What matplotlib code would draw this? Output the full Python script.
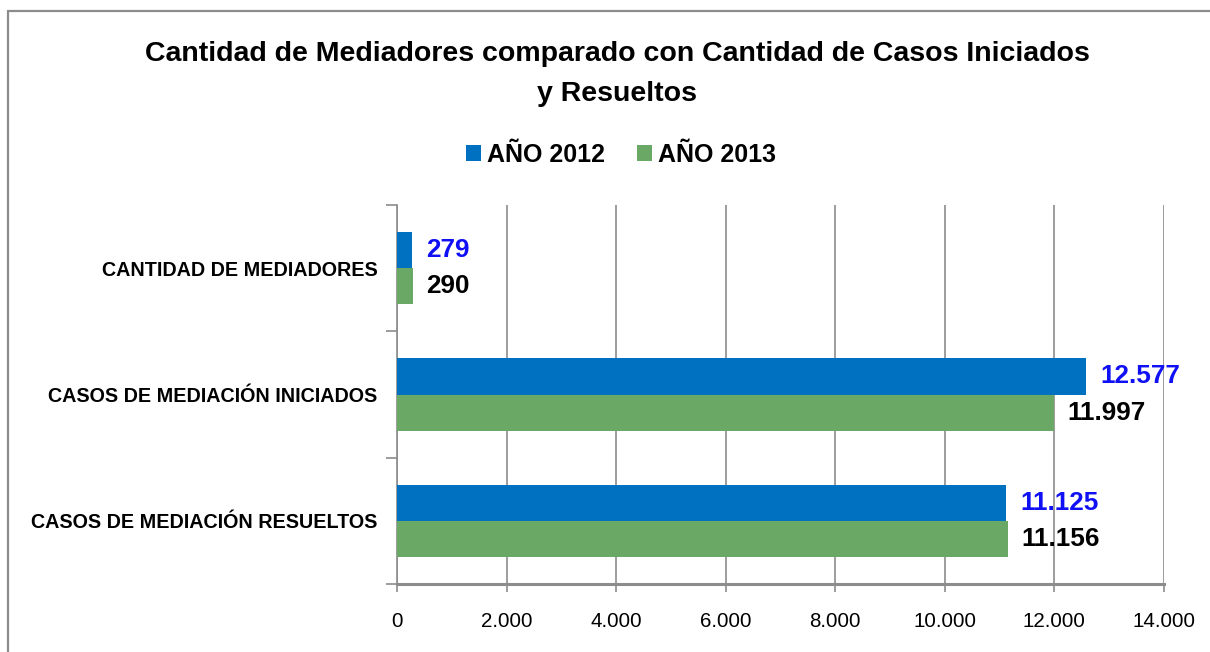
import matplotlib
matplotlib.use("Agg")
import matplotlib.pyplot as plt
from matplotlib.patches import Rectangle
from matplotlib.ticker import FuncFormatter
import numpy as np

categories = ["CANTIDAD DE MEDIADORES", "CASOS DE MEDIACIÓN INICIADOS", "CASOS DE MEDIACIÓN RESUELTOS"]
series_names = ["AÑO 2012", "AÑO 2013"]
values_2012 = [279, 12577, 11125]
values_2013 = [290, 11997, 11156]
x_ticks = [0, 2000, 4000, 6000, 8000, 10000, 12000, 14000]

title = "Cantidad de Mediadores comparado con Cantidad de Casos Iniciados\ny Resueltos"

BLUE = "#0070C0"
GREEN = "#6AA866"
LABEL_BLUE = "#1010F5"
GRAY = "#8C8C8C"

REG = ["Liberation Sans", "DejaVu Sans"]

fig = plt.figure(figsize=(12.10, 6.52), dpi=100)
ax = fig.add_axes([397/1210, 1-584/652, (1164-397)/1210, (584-205)/652])

y = np.arange(len(categories))
h = 0.286
b1 = ax.barh(y - h/2, values_2012, height=h, color=BLUE, label=series_names[0], zorder=3)
b2 = ax.barh(y + h/2, values_2013, height=h, color=GREEN, label=series_names[1], zorder=3)

ax.set_xlim(0, 14000)
ax.set_ylim(len(categories) - 0.5, -0.5)
ax.set_xticks(x_ticks)
ax.xaxis.set_major_formatter(FuncFormatter(lambda v, p: f"{int(v):,}".replace(",", ".")))
ax.set_yticks(y)
ax.set_yticklabels(categories)
ax.set_yticks(np.arange(-0.5, len(categories)), minor=True)
ax.tick_params(axis="y", which="major", length=0, pad=14)
ax.tick_params(axis="y", which="minor", length=8, width=1.2, color=GRAY, direction="out")
ax.tick_params(axis="x", length=6, width=1.2, color=GRAY, direction="out", pad=14)
for lab in ax.get_yticklabels():
    lab.set_fontfamily(REG)
    lab.set_fontweight("bold")
    lab.set_fontsize(14.2)
for lab in ax.get_xticklabels():
    lab.set_fontfamily(REG)
    lab.set_fontsize(14.8)

ax.grid(axis="x", color=GRAY, linewidth=1.2, zorder=0)
for s in ["top", "right"]:
    ax.spines[s].set_visible(False)
ax.spines["left"].set_color(GRAY)
ax.spines["left"].set_linewidth(1.2)
ax.spines["bottom"].set_color(GRAY)
ax.spines["bottom"].set_linewidth(2.2)

def fmt(v):
    return f"{v:,}".replace(",", ".")

for rect, v in zip(b1, values_2012):
    ax.annotate(fmt(v), (v, rect.get_y() + rect.get_height()/2), xytext=(14, 0),
                textcoords="offset pixels", va="center", ha="left",
                color=LABEL_BLUE, fontsize=18.8, fontweight="bold", family=REG, zorder=5)
for rect, v in zip(b2, values_2013):
    ax.annotate(fmt(v), (v, rect.get_y() + rect.get_height()/2), xytext=(13, 0),
                textcoords="offset pixels", va="center", ha="left",
                color="black", fontsize=18.8, fontweight="bold", family=REG, zorder=5)

fig.text(617/1210, 1-74/652, title, ha="center", va="center", fontsize=20.5,
         fontweight="bold", family=REG, linespacing=1.68)

fig.legend(handles=[b1, b2], labels=series_names, loc="center", bbox_to_anchor=(621/1210, 1-155/652),
           ncol=2, frameon=False, prop={"family": REG, "weight": "bold", "size": 18},
           handlelength=0.6, handleheight=0.6, handletextpad=0.25, columnspacing=1.3)

fig.patches.append(Rectangle((8/1210, -0.2), 1.2, 0.2 + (1-11/652), transform=fig.transFigure,
                             fill=False, edgecolor=GRAY, linewidth=1.6, zorder=0))

fig.savefig("out.png", dpi=100)
